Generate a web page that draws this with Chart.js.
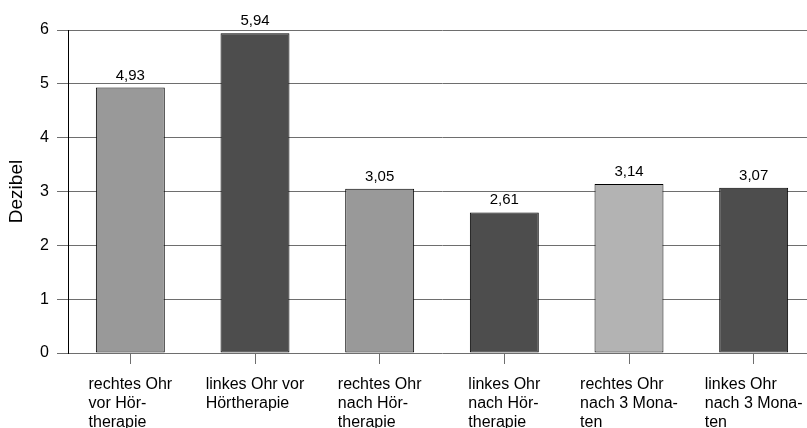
<!DOCTYPE html>
<html>
<head>
<meta charset="utf-8">
<script src="https://cdn.jsdelivr.net/npm/chart.js@4/dist/chart.umd.min.js"></script>
<style>
  html, body { margin: 0; padding: 0; background: #fff; overflow: hidden; }
  #wrap { width: 816px; height: 428px; }
</style>
</head>
<body>
<div id="wrap"><canvas id="c" width="816" height="428"></canvas></div>
<script>
// Mittelwerte der Hörschwelle je Ohr und Messzeitpunkt
const categories = [
  ['rechtes Ohr', 'vor Hör-', 'therapie'],
  ['linkes Ohr vor', 'Hörtherapie'],
  ['rechtes Ohr', 'nach Hör-', 'therapie'],
  ['linkes Ohr', 'nach Hör-', 'therapie'],
  ['rechtes Ohr', 'nach 3 Mona-', 'ten'],
  ['linkes Ohr', 'nach 3 Mona-', 'ten']
];
const dezibel = [4.93, 5.94, 3.05, 2.61, 3.14, 3.07];
const yTicks = [0, 1, 2, 3, 4, 5, 6];
const barColors = ['#999999', '#4d4d4d', '#999999', '#4d4d4d', '#b3b3b3', '#4d4d4d'];

const FONT = 'Liberation Sans, Arial, sans-serif';

// Werte über den Balken, mit Dezimalkomma
const valueLabels = {
  id: 'valueLabels',
  afterDatasetsDraw(chart) {
    const ctx = chart.ctx;
    const meta = chart.getDatasetMeta(0);
    ctx.save();
    ctx.font = '15px ' + FONT;
    ctx.fillStyle = '#000';
    ctx.textAlign = 'center';
    ctx.textBaseline = 'alphabetic';
    meta.data.forEach((bar, i) => {
      const txt = dezibel[i].toFixed(2).replace('.', ',');
      ctx.fillText(txt, bar.x, bar.y - 8);
    });
    ctx.restore();
  }
};

// Kategorienbeschriftung: Zeilen linksbündig, Block unter dem Teilstrich zentriert
const blockLabels = {
  id: 'blockLabels',
  afterDraw(chart) {
    const ctx = chart.ctx;
    const xs = chart.scales.x;
    ctx.save();
    ctx.font = '16px ' + FONT;
    ctx.fillStyle = '#000';
    ctx.textAlign = 'left';
    ctx.textBaseline = 'alphabetic';
    categories.forEach((lines, i) => {
      const cx = xs.getPixelForTick(i);
      const w = Math.max(...lines.map(l => ctx.measureText(l).width));
      const left = cx - w / 2;
      lines.forEach((line, j) => {
        ctx.fillText(line, left, xs.top + 36 + j * 19);
      });
    });
    ctx.restore();
  }
};

new Chart(document.getElementById('c'), {
  type: 'bar',
  data: {
    labels: categories,
    datasets: [{
      data: dezibel,
      backgroundColor: barColors,
      borderColor: '#000',
      borderWidth: 1,
      borderSkipped: false,
      barPercentage: 0.553,
      categoryPercentage: 1.0
    }]
  },
  options: {
    responsive: false,
    animation: false,
    devicePixelRatio: 1,
    layout: { padding: { top: 30, right: 0, bottom: 0, left: 0 } },
    plugins: {
      legend: { display: false },
      tooltip: { enabled: false }
    },
    scales: {
      x: {
        offset: true,
        grid: {
          offset: false,
          drawOnChartArea: false,
          drawTicks: true,
          tickLength: 11,
          color: '#6e6e6e',
          lineWidth: 1
        },
        border: { display: false },
        ticks: { display: false },
        afterFit(scale) { scale.height = 75; }
      },
      y: {
        min: 0,
        max: 6,
        afterBuildTicks(scale) { scale.ticks = yTicks.map(v => ({ value: v })); },
        grid: {
          color: '#6e6e6e',
          lineWidth: 1,
          drawTicks: true,
          tickLength: 11
        },
        border: { display: true, color: '#000', width: 1 },
        ticks: {
          color: '#000',
          padding: 8,
          font: { family: FONT, size: 16 },
          callback: v => String(v)
        },
        title: {
          display: true,
          text: 'Dezibel',
          color: '#000',
          font: { family: FONT, size: 19 },
          padding: { top: 5, bottom: 0 }
        },
        afterFit(scale) { scale.width = 68; }
      }
    }
  },
  plugins: [valueLabels, blockLabels]
});
</script>
</body>
</html>
